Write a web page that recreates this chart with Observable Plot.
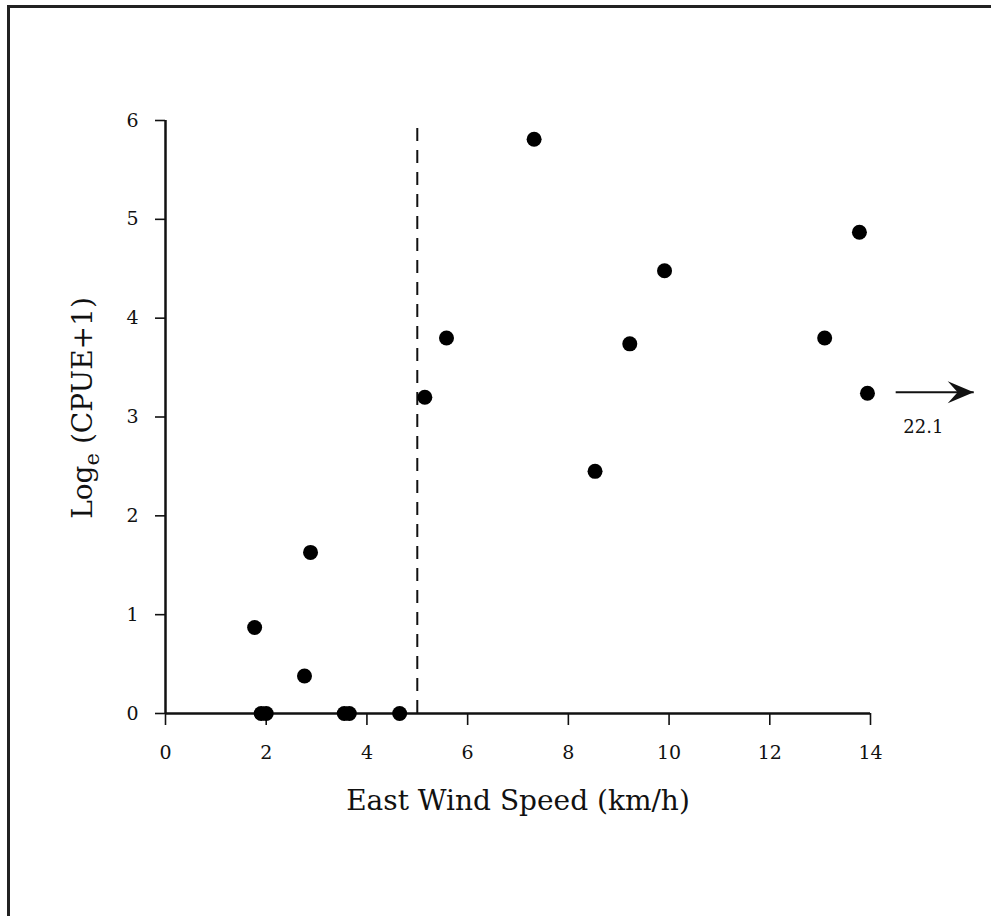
<!DOCTYPE html>
<html>
<head>
<meta charset="utf-8">
<script src="https://cdn.jsdelivr.net/npm/d3@7"></script>
<script src="https://cdn.jsdelivr.net/npm/@observablehq/plot@0.6"></script>
<style>
  html, body { margin: 0; padding: 0; background: #fff; }
  #wrap { position: relative; width: 991px; height: 916px; overflow: hidden; }
  #frame { position: absolute; left: 7px; top: 5px; width: 1200px; height: 1200px;
           border-left: 3px solid #222; border-top: 3px solid #222; pointer-events: none; }
  svg { display: block; }
</style>
</head>
<body>
<div id="wrap"><div id="frame"></div></div>
<script>
// East wind speed (km/h)
const windSpeed = [1.77, 1.9, 2.0, 2.76, 2.88, 3.55, 3.65, 4.65, 5.15, 5.58, 7.32, 8.53, 9.22, 9.91, 13.09, 13.78, 13.94];
// Log_e(CPUE+1)
const logCpue   = [0.87, 0.0, 0.0, 0.38, 1.63, 0.0, 0.0, 0.0, 3.20, 3.80, 5.81, 2.45, 3.74, 4.48, 3.80, 4.87, 3.24];
const xTicks = [0, 2, 4, 6, 8, 10, 12, 14];
const yTicks = [0, 1, 2, 3, 4, 5, 6];
const threshold = [5];
// off-scale point indicator
const arrowFrom = [14.5];
const arrowTo = [16.05];
const arrowAt = [3.25];
const arrowLabel = ["22.1"];
const arrowLabelAt = [15.05, 2.9];
const xTitle = "East Wind Speed (km/h)";
const yTitle = ["Log", "e", " (CPUE+1)"];

const points = windSpeed.map((x, i) => ({x, y: logCpue[i]}));
const arrows = arrowFrom.map((x1, i) => ({x1, x2: arrowTo[i], y: arrowAt[i]}));

// filled "stealth" arrowhead for Plot.vector (drawn pointing up, tip at -l)
const stealth = {
  draw(context, l) {
    const w = l * 0.42;
    context.moveTo(0, -l);
    context.lineTo(-w, 0);
    context.lineTo(0, -l * 0.38);
    context.lineTo(w, 0);
    context.closePath();
  }
};

const chart = Plot.plot({
  width: 991,
  height: 916,
  marginLeft: 165,
  marginRight: 121,
  marginTop: 120,
  marginBottom: 203,
  style: {fontFamily: "DejaVu Serif", fontSize: "19px", color: "#111", background: "transparent"},
  x: {domain: [0, 14]},
  y: {domain: [0, 6]},
  marks: [
    Plot.axisX({ticks: xTicks, tickFormat: d => String(d), tickSize: 12, tickPadding: 20, label: null, strokeWidth: 1.6, fontSize: 19}),
    Plot.axisY({ticks: yTicks, tickFormat: d => String(d), tickSize: 10, tickPadding: 17, label: null, strokeWidth: 1.6, fontSize: 19}),
    Plot.ruleY([0], {x1: 0, x2: 14, stroke: "#111", strokeWidth: 2.5}),
    Plot.ruleX([0], {y1: 0, y2: 6, stroke: "#111", strokeWidth: 2.5}),
    Plot.ruleX(threshold, {y1: 0, y2: 5.95, stroke: "#111", strokeWidth: 2, strokeDasharray: "13,9"}),
    Plot.dot(points, {x: "x", y: "y", r: 7.5, fill: "#000", stroke: "none"}),
    Plot.link(arrows, {x1: "x1", x2: "x2", y1: "y", y2: "y", stroke: "#111", strokeWidth: 2, clip: false}),
    Plot.vector(arrows, {x: "x2", y: "y", rotate: 90, length: 26, anchor: "end", shape: stealth, fill: "#111", stroke: "none", clip: false}),
    Plot.text(arrowLabel, {x: () => arrowLabelAt[0], y: () => arrowLabelAt[1], text: d => d, fontSize: 18, fill: "#111", clip: false}),
    Plot.text([xTitle], {frameAnchor: "bottom", dy: 88, text: d => d, fontSize: 28, fill: "#111", lineAnchor: "middle"})
  ]
});

const svg = d3.select(chart);
const yt = svg.append("text")
  .attr("transform", "translate(92,408) rotate(-90)")
  .attr("text-anchor", "middle")
  .attr("fill", "#111")
  .attr("font-family", "DejaVu Serif")
  .attr("font-size", 28);
yt.append("tspan").text(yTitle[0]);
yt.append("tspan").attr("font-size", 21).attr("dy", 7).text(yTitle[1]);
yt.append("tspan").attr("dy", -7).text(yTitle[2]);

document.getElementById("wrap").prepend(chart);
</script>
</body>
</html>
